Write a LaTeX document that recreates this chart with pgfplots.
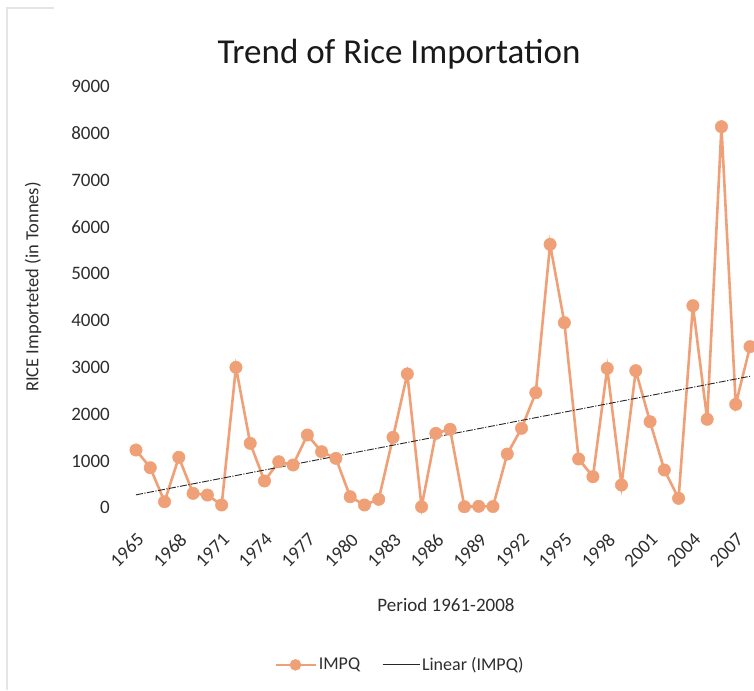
\documentclass[border=0pt]{standalone}
\usepackage{pgfplots}
\pgfplotsset{compat=1.18}
\usepackage{fontspec}
\setmainfont{Carlito}
\definecolor{impq}{RGB}{240,160,118}
\definecolor{txt}{RGB}{45,45,45}
\begin{document}
\begin{tikzpicture}[x=1pt,y=1pt]
\useasboundingbox (0,0) rectangle (754,690);
\draw[black!10, line width=2pt] (6.5,0) -- (6.5,681.5) -- (54,681.5);
\begin{axis}[
  at={(121.7pt,158.9pt)}, anchor=south west,
  scale only axis, width=632.3pt, height=444.4pt,
  xmin=1964, xmax=2008.28, ymin=-500, ymax=9000,
  enlargelimits=false, clip=false,
  axis line style={draw=none}, major tick length=0pt,
  ytick={0,1000,...,9000}, xtick={1965,1968,...,2007},
  /pgf/number format/1000 sep={},
  /pgf/number format/assume math mode=true,
  tick label style={font=\fontsize{19}{22}\selectfont, text=txt},
  yticklabel style={anchor=east, inner sep=0pt, xshift=-11.7pt},
  xticklabel style={rotate=45, anchor=north east, inner sep=0.5pt},
  legend columns=2,
  legend style={draw=none, fill=none, at={(0.44,-0.301)}, anchor=center,
    font=\fontsize{18}{20}\selectfont, text=txt,
    /tikz/every even column/.append style={column sep=20pt}},
]
\addplot[color=impq, line width=2.6pt, mark=*, mark size=6.2pt,
  mark options={fill=impq, draw=impq, line width=0.5pt},
  legend image code/.code={\draw[impq, solid, line width=2.6pt] (0pt,0pt) -- (40pt,0pt); \draw[impq, solid, fill=impq, mark size=5.5pt] plot[mark=*] coordinates {(20pt,0pt)};}]
table {
x y
1965 1233
1966 855
1967 128
1968 1077
1969 307
1970 271
1971 58
1972 3001
1973 1376
1974 571
1975 983
1976 913
1977 1554
1978 1197
1979 1055
1980 235
1981 58
1982 179
1983 1505
1984 2860
1985 21
1986 1590
1987 1676
1988 21
1989 30
1990 25
1991 1148
1992 1697
1993 2459
1994 5630
1995 3955
1996 1041
1997 663
1998 2980
1999 485
2000 2929
2001 1838
2002 806
2003 200
2004 4318
2005 1890
2006 8145
2007 2210
2008 3442
};
\addlegendentry{IMPQ}
\addplot[color=black!85, line width=0.9pt, dash pattern=on 7pt off 1.5pt on 1.2pt off 1.5pt,
  legend image code/.code={\draw[black!85, solid, line width=0.9pt] (0pt,0pt) -- (37pt,0pt);}]
table {
x y
1965 275
2008 2810
};
\addlegendentry{Linear (IMPQ)}
\end{axis}
\node[anchor=base, font=\fontsize{35}{40}\selectfont, text=black!90] at (399,626) {Trend of Rice Importation};
\node[anchor=base, font=\fontsize{19}{22}\selectfont, text=txt] at (446,78) {Period 1961-2008};
\node[rotate=90, font=\fontsize{18.5}{22}\selectfont, text=txt] at (33,403) {RICE Importeted (in Tonnes)};
\end{tikzpicture}
\end{document}
